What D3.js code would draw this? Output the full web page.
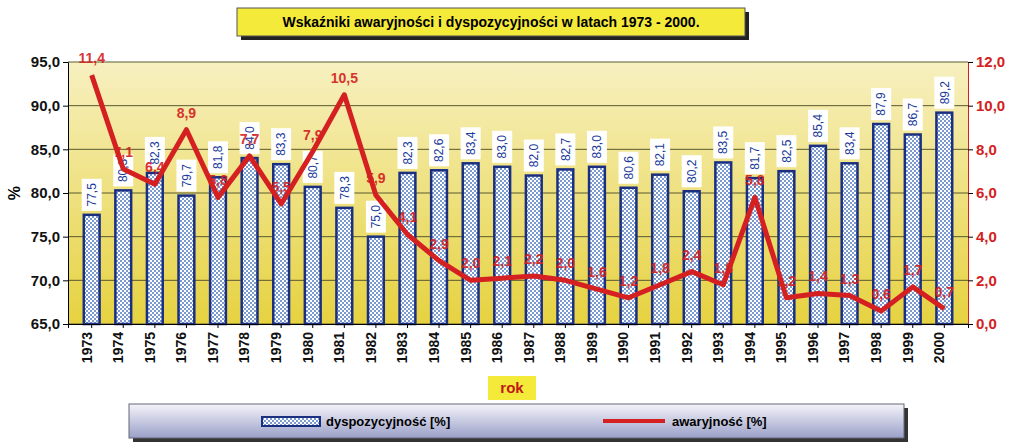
<!DOCTYPE html>
<html><head><meta charset="utf-8">
<script src="https://cdn.jsdelivr.net/npm/d3@7"></script>
<style>body{margin:0;background:#fff;font-family:"Liberation Sans",Arial,sans-serif}</style>
</head><body><svg id="c" width="1023" height="445"></svg>
<script>
var years = [1973,1974,1975,1976,1977,1978,1979,1980,1981,1982,1983,1984,1985,1986,1987,1988,1989,1990,1991,1992,1993,1994,1995,1996,1997,1998,1999,2000];
var dysp = [77.5,80.3,82.3,79.7,81.8,84.0,83.3,80.7,78.3,75.0,82.3,82.6,83.4,83.0,82.0,82.7,83.0,80.6,82.1,80.2,83.5,81.7,82.5,85.4,83.4,87.9,86.7,89.2];
var awar = [11.4,7.1,6.4,8.9,5.8,7.7,5.5,7.9,10.5,5.9,4.1,2.9,2.0,2.1,2.2,2.0,1.6,1.2,1.8,2.4,1.8,5.8,1.2,1.4,1.3,0.6,1.7,0.7];
var leftTicks = [65,70,75,80,85,90,95];
var rightTicks = [0,2,4,6,8,10,12];

var svg = d3.select("#c");
var fmt = function(v){ return d3.format(".1f")(v).replace(".", ","); };
var L = 68, R = 968, T = 62, B = 324;

var defs = svg.append("defs");
var g1 = defs.append("linearGradient").attr("id","bg").attr("x1",0).attr("y1",0).attr("x2",0).attr("y2",1);
g1.append("stop").attr("offset","0%").attr("stop-color","#f7f0c0");
g1.append("stop").attr("offset","100%").attr("stop-color","#e6d240");
var pat = defs.append("pattern").attr("id","chk").attr("width",4).attr("height",4).attr("patternUnits","userSpaceOnUse");
pat.append("rect").attr("width",4).attr("height",4).attr("fill","#fff");
pat.append("rect").attr("width",2).attr("height",2).attr("fill","#7a9ad0");
pat.append("rect").attr("x",2).attr("y",2).attr("width",2).attr("height",2).attr("fill","#7a9ad0");
var g2 = defs.append("linearGradient").attr("id","lg").attr("x1",0).attr("y1",0).attr("x2",0).attr("y2",1);
g2.append("stop").attr("offset","0%").attr("stop-color","#f4f4fa");
g2.append("stop").attr("offset","100%").attr("stop-color","#9aa0c8");

var x = d3.scaleBand().domain(years).range([L,R]).padding(0.5);
var y = d3.scaleLinear().domain([65,95]).range([B,T]);
var y2 = d3.scaleLinear().domain([0,12]).range([B,T]);

svg.append("rect").attr("x",L).attr("y",T).attr("width",R-L).attr("height",B-T).attr("fill","url(#bg)");
svg.append("g").selectAll("line").data(leftTicks).enter().append("line")
  .attr("x1",L).attr("x2",R).attr("y1",function(d){return y(d);}).attr("y2",function(d){return y(d);})
  .attr("stroke","#5a5a30").attr("stroke-width",1);

svg.append("g").selectAll("rect").data(dysp).enter().append("rect")
  .attr("x",function(d,i){return x(years[i]);}).attr("width",x.bandwidth())
  .attr("y",function(d){return y(d);}).attr("height",function(d){return B-y(d);})
  .attr("fill","url(#chk)").attr("stroke","#1a2f80").attr("stroke-width",2.5);

var lab = svg.append("g").selectAll("g").data(dysp).enter().append("g")
  .attr("transform",function(d,i){return "translate("+(x(years[i])+x.bandwidth()/2)+","+(y(d)-4)+") rotate(-90)";});
lab.append("rect").attr("x",0).attr("y",-10).attr("width",32).attr("height",20).attr("fill","#fff");
lab.append("text").attr("x",16).attr("dy","0.35em").attr("text-anchor","middle")
  .attr("font-size",12).attr("fill","#1a3a9a").text(fmt);

var line = d3.line().x(function(d,i){return x(years[i])+x.bandwidth()/2;}).y(function(d){return y2(d);});
svg.append("path").datum(awar).attr("d",line).attr("fill","none").attr("stroke","#d42020").attr("stroke-width",5).attr("stroke-linejoin","round");
svg.append("g").selectAll("text").data(awar).enter().append("text")
  .attr("x",function(d,i){return x(years[i])+x.bandwidth()/2;})
  .attr("y",function(d){return y2(d)-12;}).attr("text-anchor","middle")
  .attr("font-size",14).attr("font-weight","bold").attr("fill","#d42020").attr("opacity",0.9).text(fmt);

var ax = svg.append("g").attr("transform","translate("+L+",0)")
  .call(d3.axisLeft(y).tickValues(leftTicks).tickFormat(fmt).tickSize(5));
ax.selectAll("text").attr("font-size",15).attr("font-weight","bold").attr("fill","#111");
var ax2 = svg.append("g").attr("transform","translate("+R+",0)")
  .call(d3.axisRight(y2).tickValues(rightTicks).tickFormat(fmt).tickSize(5));
ax2.selectAll("text").attr("font-size",15).attr("font-weight","bold").attr("fill","#d42020");
ax2.select(".domain").attr("stroke","#d42020");
var ax3 = svg.append("g").attr("transform","translate(0,"+B+")")
  .call(d3.axisBottom(x).tickSize(4));
ax3.selectAll("text").attr("transform","rotate(-90)").attr("x",-8).attr("y",-5).attr("dy","0.35em")
  .attr("text-anchor","end").attr("font-size",14).attr("font-weight","bold").attr("fill","#111");

svg.append("text").attr("x",14).attr("y",(T+B)/2).attr("text-anchor","middle").attr("dy","0.35em")
  .attr("transform","rotate(-90,14,"+((T+B)/2)+")").attr("font-size",16).attr("font-weight","bold").text("%");

svg.append("rect").attr("x",241).attr("y",12).attr("width",508).attr("height",28).attr("fill","#222");
svg.append("rect").attr("x",237).attr("y",8).attr("width",508).attr("height",28).attr("fill","#f4ea3a").attr("stroke","#555");
svg.append("text").attr("x",491).attr("y",27).attr("text-anchor","middle").attr("font-size",14).attr("font-weight","bold")
  .text("Wskaźniki awaryjności i dyspozycyjności w latach 1973 - 2000.");

svg.append("rect").attr("x",488).attr("y",376).attr("width",48).attr("height",24).attr("fill","#f4ea3a");
svg.append("text").attr("x",512).attr("y",393).attr("text-anchor","middle").attr("font-size",15).attr("font-weight","bold").attr("fill","#c01818").text("rok");

svg.append("rect").attr("x",133).attr("y",408).attr("width",775).attr("height",34).attr("fill","#333");
svg.append("rect").attr("x",129).attr("y",404).attr("width",775).attr("height",34).attr("fill","url(#lg)").attr("stroke","#667");
svg.append("rect").attr("x",262).attr("y",417).attr("width",58).attr("height",9).attr("fill","url(#chk)").attr("stroke","#1a2f80").attr("stroke-width",2);
svg.append("text").attr("x",326).attr("y",426).attr("font-size",13).attr("font-weight","bold").text("dyspozycyjność [%]");
svg.append("line").attr("x1",603).attr("x2",665).attr("y1",421).attr("y2",421).attr("stroke","#d42020").attr("stroke-width",4);
svg.append("text").attr("x",672).attr("y",426).attr("font-size",13).attr("font-weight","bold").text("awaryjność [%]");
</script></body></html>
